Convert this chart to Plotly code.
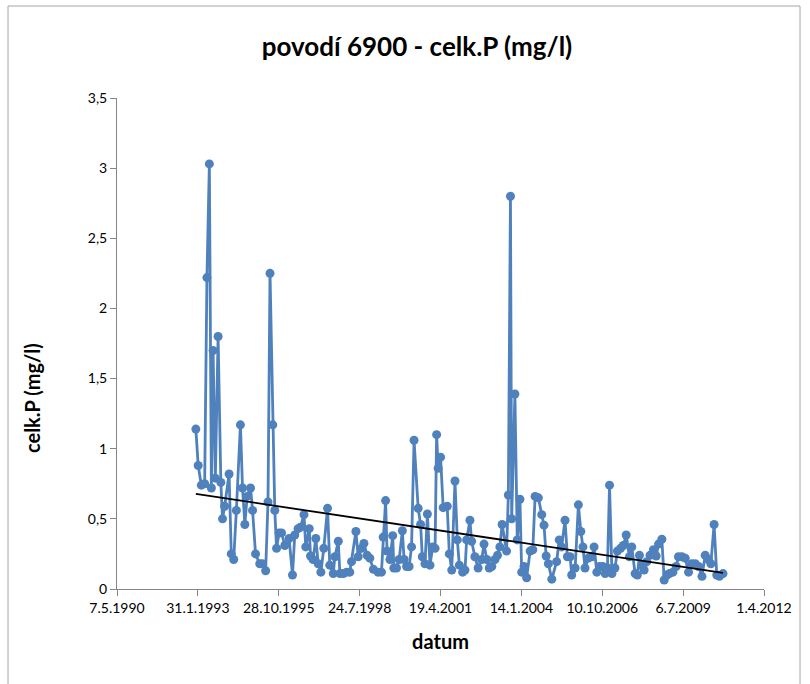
import numpy as np
import pandas as pd
import plotly.graph_objects as go

dates = [
    "1993-01-06", "1993-02-04", "1993-03-15", "1993-04-25", "1993-05-23", "1993-06-22",
    "1993-07-17", "1993-08-07", "1993-09-04", "1993-10-08", "1993-11-11", "1993-12-02",
    "1993-12-28", "1994-02-21", "1994-03-20", "1994-04-19", "1994-05-22", "1994-07-11",
    "1994-08-06", "1994-09-04", "1994-10-02", "1994-11-13", "1994-12-08", "1995-01-14",
    "1995-03-07", "1995-04-10", "1995-05-19", "1995-06-17", "1995-07-12", "1995-08-15",
    "1995-09-09", "1995-10-01", "1995-11-02", "1995-12-02", "1996-01-11", "1996-03-04",
    "1996-04-15", "1996-05-13", "1996-06-23", "1996-07-22", "1996-09-04", "1996-09-26",
    "1996-11-08", "1996-11-24", "1996-12-25", "1997-01-28", "1997-02-27", "1997-04-01",
    "1997-05-07", "1997-06-22", "1997-07-20", "1997-09-01", "1997-09-21", "1997-11-02",
    "1997-11-22", "1998-01-03", "1998-02-14", "1998-03-24", "1998-04-15", "1998-06-08",
    "1998-07-06", "1998-08-17", "1998-09-15", "1998-10-24", "1998-11-27", "1999-01-10",
    "1999-03-09", "1999-04-20", "1999-05-11", "1999-06-10", "1999-06-28", "1999-08-03",
    "1999-09-06", "1999-09-20", "1999-10-23", "1999-11-25", "2000-01-03", "2000-01-25",
    "2000-02-25", "2000-03-27", "2000-04-26", "2000-05-27", "2000-07-17", "2000-08-16",
    "2000-09-06", "2000-10-09", "2000-11-08", "2000-12-10", "2001-01-13", "2001-02-11",
    "2001-03-02", "2001-03-21", "2001-04-20", "2001-05-22", "2001-07-11", "2001-08-06",
    "2001-09-05", "2001-10-15", "2001-11-13", "2001-12-08", "2002-01-18", "2002-02-16",
    "2002-03-08", "2002-04-18", "2002-05-09", "2002-06-18", "2002-07-28", "2002-09-11",
    "2002-10-09", "2002-11-12", "2002-12-13", "2003-01-13", "2003-02-22", "2003-03-25",
    "2003-04-23", "2003-05-21", "2003-07-15", "2003-08-06", "2003-09-01", "2003-09-16",
    "2003-10-26", "2003-11-24", "2003-12-27", "2004-01-18", "2004-02-16", "2004-03-19",
    "2004-05-01", "2004-06-03", "2004-07-02", "2004-08-11", "2004-09-22", "2004-10-20",
    "2004-11-15", "2004-12-13", "2005-01-24", "2005-03-25", "2005-04-26", "2005-05-25",
    "2005-07-07", "2005-08-05", "2005-09-08", "2005-09-27", "2005-11-09", "2005-12-19",
    "2006-01-18", "2006-02-13", "2006-03-11", "2006-04-20", "2006-06-03", "2006-07-01",
    "2006-08-04", "2006-09-06", "2006-10-16", "2006-11-15", "2006-12-13", "2007-01-08",
    "2007-02-07", "2007-03-16", "2007-04-15", "2007-05-25", "2007-06-27", "2007-08-02",
    "2007-09-11", "2007-10-10", "2007-11-20", "2007-12-18", "2008-01-13", "2008-02-24",
    "2008-03-11", "2008-04-13", "2008-05-23", "2008-07-04", "2008-08-07", "2008-09-05",
    "2008-10-16", "2008-11-14", "2008-12-17", "2009-01-18", "2009-03-01", "2009-04-11",
    "2009-05-09", "2009-06-20", "2009-08-01", "2009-09-11", "2009-10-22", "2009-12-03",
    "2010-01-13", "2010-02-24", "2010-04-05", "2010-05-15", "2010-06-14", "2010-07-24",
    "2010-08-26", "2010-09-28", "2010-11-11",
]

celk_p = [
    1.14, 0.88, 0.74, 0.75, 2.22, 3.03,
    0.72, 1.70, 0.79, 1.80, 0.76, 0.50,
    0.59, 0.82, 0.25, 0.21, 0.56, 1.17,
    0.72, 0.46, 0.66, 0.72, 0.56, 0.25,
    0.18, 0.18, 0.13, 0.62, 2.25, 1.17,
    0.56, 0.29, 0.40, 0.40, 0.31, 0.36,
    0.10, 0.385, 0.43, 0.44, 0.53, 0.30,
    0.43, 0.235, 0.21, 0.36, 0.18, 0.12,
    0.29, 0.575, 0.17, 0.11, 0.23, 0.34,
    0.11, 0.11, 0.12, 0.12, 0.195, 0.41,
    0.23, 0.29, 0.325, 0.24, 0.22, 0.14,
    0.12, 0.12, 0.37, 0.63, 0.27, 0.21,
    0.38, 0.15, 0.15, 0.21, 0.415, 0.21,
    0.16, 0.16, 0.30, 1.06, 0.575, 0.46,
    0.23, 0.18, 0.535, 0.17, 0.30, 0.29,
    1.10, 0.86, 0.94, 0.58, 0.59, 0.25,
    0.135, 0.77, 0.35, 0.17, 0.12, 0.135,
    0.35, 0.49, 0.34, 0.23, 0.15, 0.21,
    0.32, 0.21, 0.15, 0.16, 0.21, 0.24,
    0.30, 0.46, 0.27, 0.67, 2.80, 0.50,
    1.39, 0.35, 0.64, 0.12, 0.16, 0.08,
    0.27, 0.28, 0.66, 0.65, 0.53, 0.455,
    0.235, 0.18, 0.07, 0.195, 0.35, 0.30,
    0.49, 0.23, 0.23, 0.10, 0.15, 0.60,
    0.41, 0.30, 0.15, 0.22, 0.23, 0.30,
    0.12, 0.16, 0.16, 0.11, 0.15, 0.74,
    0.11, 0.15, 0.27, 0.29, 0.31, 0.385,
    0.23, 0.30, 0.11, 0.10, 0.24, 0.16,
    0.135, 0.195, 0.24, 0.28, 0.235, 0.32,
    0.355, 0.064, 0.10, 0.11, 0.12, 0.16,
    0.23, 0.23, 0.22, 0.12, 0.18, 0.18,
    0.16, 0.09, 0.24, 0.21, 0.18, 0.46,
    0.10, 0.09, 0.11,
]

tick_dates = ["1990-05-07", "1993-01-31", "1995-10-28", "1998-07-24", "2001-04-19",
              "2004-01-14", "2006-10-10", "2009-07-06", "2012-04-01"]
tick_labels = ["7.5.1990", "31.1.1993", "28.10.1995", "24.7.1998", "19.4.2001",
               "14.1.2004", "10.10.2006", "6.7.2009", "1.4.2012"]
y_ticks = [0, 0.5, 1, 1.5, 2, 2.5, 3, 3.5]
y_labels = ["0", "0,5", "1", "1,5", "2", "2,5", "3", "3,5"]

# linear trendline (least squares over date)
d = pd.to_datetime(dates)
t = (d - pd.Timestamp("1990-01-01")).days.values.astype(float)
slope, intercept = np.polyfit(t, np.array(celk_p), 1)
trend_x = [d[0], d[-1]]
trend_y = [slope * t[0] + intercept, slope * t[-1] + intercept]

blue = "#4F81BD"
fig = go.Figure()
fig.add_trace(go.Scatter(
    x=d, y=celk_p, mode="lines+markers",
    line=dict(color=blue, width=2.8),
    marker=dict(color=blue, size=9),
    showlegend=False,
))
fig.add_trace(go.Scatter(
    x=trend_x, y=trend_y, mode="lines",
    line=dict(color="black", width=1.8),
    showlegend=False,
))

L, R, T, B = 117, 46, 98, 95
W, H = 810, 684
pw, ph = W - L - R, H - T - B

def px(xp):
    return (xp - L) / pw

def py(yp):
    return (H - B - yp) / ph

fig.add_shape(type="rect", xref="paper", yref="paper",
              x0=px(8), x1=px(800), y0=py(690), y1=py(6),
              line=dict(color="#A6A6A6", width=1), layer="below")

fig.add_annotation(
    text="<b>celk.P (mg/l)</b>", textangle=-90,
    xref="paper", yref="paper", x=px(32), y=py(398),
    xanchor="center", yanchor="middle", showarrow=False,
    font=dict(size=20, color="black"),
)

fig.update_layout(
    width=W, height=H,
    margin=dict(l=L, r=R, t=T, b=B),
    paper_bgcolor="white", plot_bgcolor="white",
    font=dict(family="Lato, Open Sans, sans-serif", color="black", size=14),
    title=dict(text="<b>povodí 6900 - celk.P (mg/l)</b>", x=417 / W, xanchor="center",
               y=1 - 47 / H, yanchor="middle", font=dict(size=26)),
)
fig.update_xaxes(
    type="date",
    range=[tick_dates[0], tick_dates[-1]],
    tickvals=tick_dates, ticktext=tick_labels,
    showgrid=False, zeroline=False,
    showline=True, linecolor="#868686", linewidth=1,
    ticks="outside", ticklen=6, tickcolor="#868686",
    tickfont=dict(size=14),
    title=dict(text="<b>datum</b>", font=dict(size=20), standoff=20),
)
fig.update_yaxes(
    range=[0, 3.5],
    tickvals=y_ticks, ticktext=y_labels,
    showgrid=False, zeroline=False,
    showline=True, linecolor="#868686", linewidth=1,
    ticks="outside", ticklen=6, tickcolor="#868686",
    tickfont=dict(size=14),
)

fig.write_html("out.html")
